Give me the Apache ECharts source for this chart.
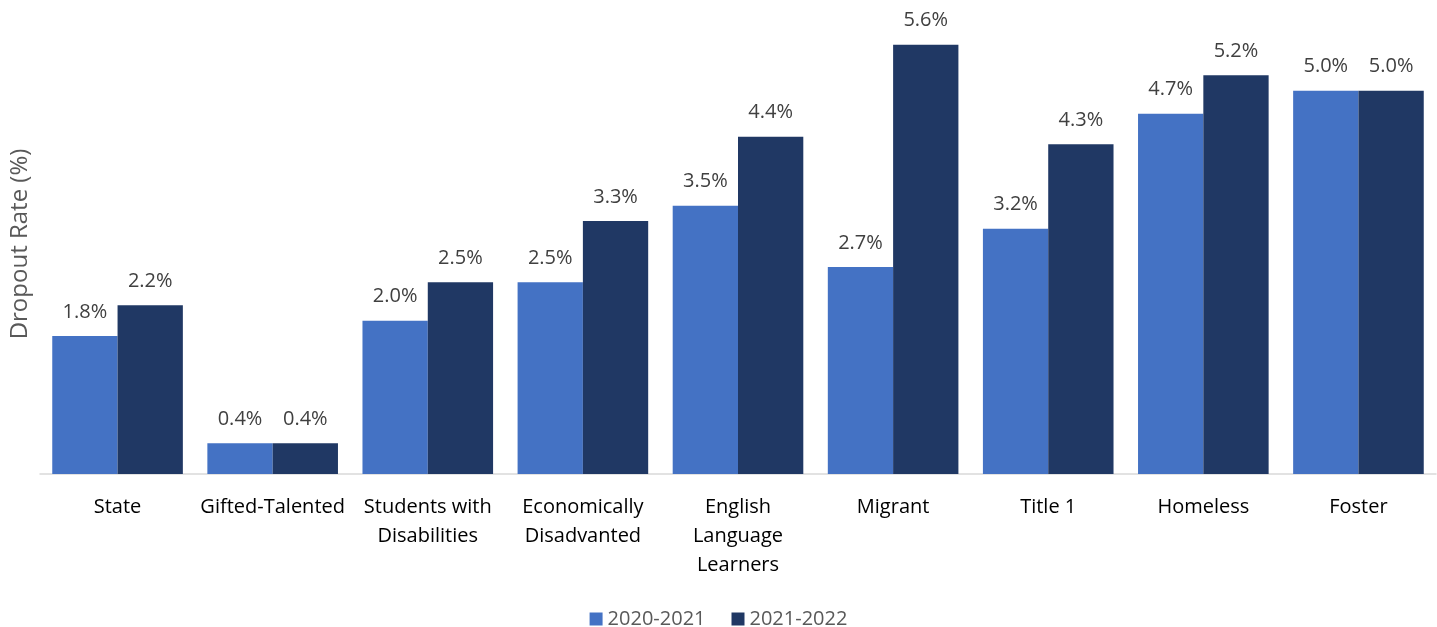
<!DOCTYPE html>
<html><head><meta charset="utf-8">
<script src="https://cdn.jsdelivr.net/npm/echarts@6/dist/echarts.min.js"></script>
<style>html,body{margin:0;padding:0;background:#fff}#c{width:1437px;height:627px}</style>
</head><body><div id="c"></div>
<script>
const categories = ['State','Gifted-Talented','Students with\nDisabilities','Economically\nDisadvanted','English\nLanguage\nLearners','Migrant','Title 1','Homeless','Foster'];
const seriesNames = ['2020-2021','2021-2022'];
const values2021 = [1.8,0.4,2.0,2.5,3.5,2.7,3.2,4.7,5.0];
const values2022 = [2.2,0.4,2.5,3.3,4.4,5.6,4.3,5.2,5.0];
const colors = ['#4472C4','#203864'];
const FONT = 'Open Sans';
const chart = echarts.init(document.getElementById('c'));
const lbl = {show:true,position:'top',distance:14,color:'#404040',fontSize:20,fontFamily:FONT,formatter:p=>p.value.toFixed(1)+'%'};
chart.setOption({
  animation:false,
  textStyle:{fontFamily:FONT},
  grid:{left:36,right:1,top:14,bottom:153},
  legend:{bottom:-7,left:'center',itemWidth:13,itemHeight:13,itemGap:26,icon:'rect',
    textStyle:{color:'#595959',fontSize:20,fontFamily:FONT}},
  xAxis:{type:'category',data:categories,
    axisLine:{lineStyle:{color:'#D9D9D9',width:1.5}},axisTick:{show:false},
    axisLabel:{color:'#000',fontSize:20,fontFamily:FONT,lineHeight:29,margin:19,interval:0}},
  yAxis:{type:'value',min:0,max:6,name:'Dropout Rate (%)',nameLocation:'middle',nameGap:8,
    nameTextStyle:{color:'#595959',fontSize:24,fontFamily:FONT},
    axisLabel:{show:false},splitLine:{show:false},axisLine:{show:false},axisTick:{show:false}},
  series:[
    {name:seriesNames[0],type:'bar',data:values2021,itemStyle:{color:colors[0]},barGap:'0%',barCategoryGap:'15.8%',label:lbl},
    {name:seriesNames[1],type:'bar',data:values2022,itemStyle:{color:colors[1]},barGap:'0%',barCategoryGap:'15.8%',label:lbl}
  ]
});
</script></body></html>
